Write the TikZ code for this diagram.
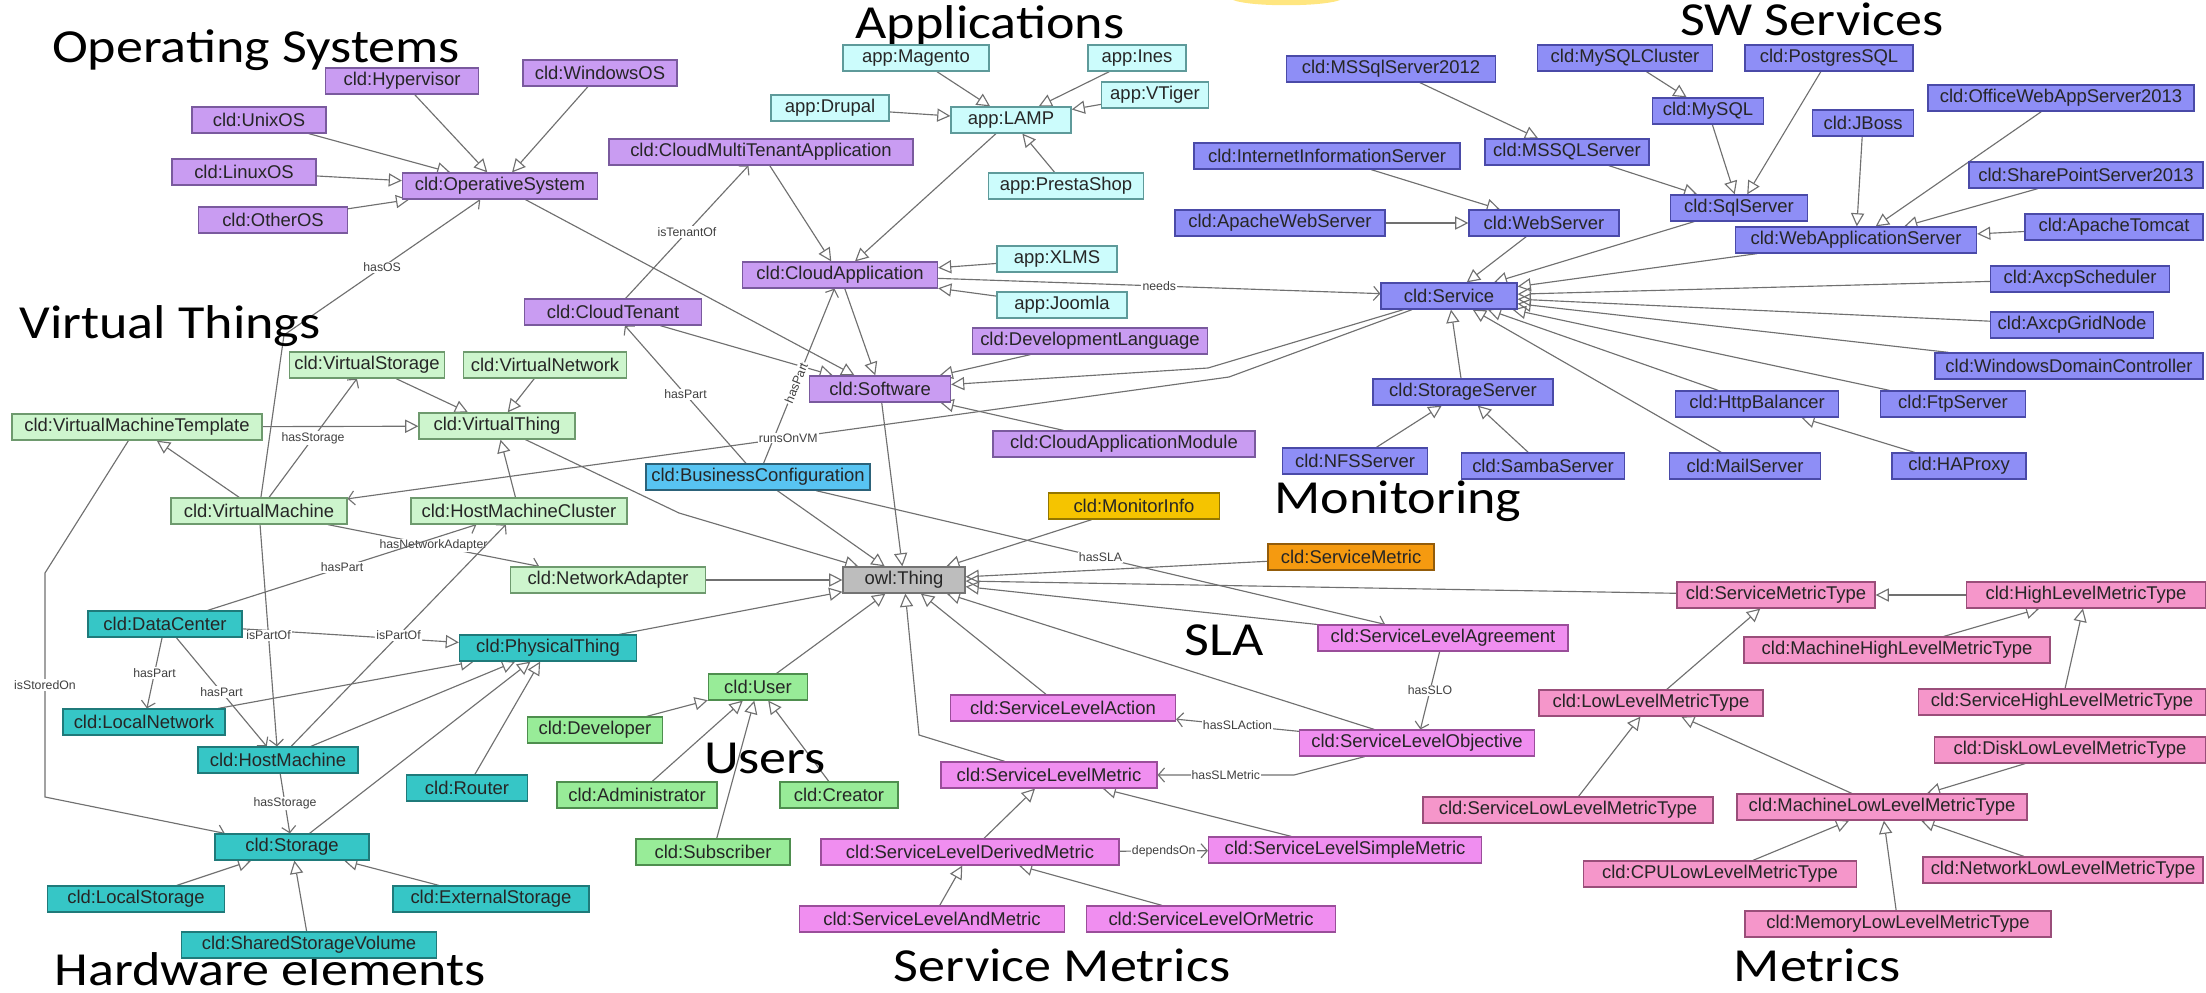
\documentclass[tikz,border=0pt]{standalone}
\usepackage{fontspec}
\setmainfont{Liberation Sans}
\newfontfamily\headfont[FakeStretch=1.14]{Carlito}
\usetikzlibrary{arrows.meta,backgrounds}
\definecolor{osfill}{HTML}{C99CF2}
\definecolor{osline}{HTML}{7A5A9E}
\definecolor{appfill}{HTML}{CCFCFC}
\definecolor{appline}{HTML}{5E9A9A}
\definecolor{swfill}{HTML}{8E8EF6}
\definecolor{swline}{HTML}{4A4AA8}
\definecolor{vtfill}{HTML}{CDF5CD}
\definecolor{vtline}{HTML}{6E9A6E}
\definecolor{hwfill}{HTML}{36C6C6}
\definecolor{hwline}{HTML}{1F7A7A}
\definecolor{usrfill}{HTML}{98EC98}
\definecolor{usrline}{HTML}{4E8E4E}
\definecolor{slafill}{HTML}{F08EF0}
\definecolor{slaline}{HTML}{9A4E9A}
\definecolor{metfill}{HTML}{F596CA}
\definecolor{metline}{HTML}{9A4E7A}
\definecolor{bizfill}{HTML}{58C4F2}
\definecolor{monfill}{HTML}{F5C400}
\definecolor{smfill}{HTML}{F59A10}
\definecolor{thingfill}{HTML}{BDBDBD}
\definecolor{edgec}{HTML}{707070}
\definecolor{logoyel}{HTML}{FFE680}
\tikzset{
  blk/.style={draw,rectangle,minimum height=0.52cm,inner xsep=1pt,inner ysep=0pt,line width=0.7pt,text=black!85,font=\fontsize{10.5}{12}\selectfont},
  wd/.style={minimum width=#1cm},
  osblk/.style={blk,fill=osfill,draw=osline},
  appblk/.style={blk,fill=appfill,draw=appline},
  swblk/.style={blk,fill=swfill,draw=swline},
  vtblk/.style={blk,fill=vtfill,draw=vtline},
  hwblk/.style={blk,fill=hwfill,draw=hwline},
  usrblk/.style={blk,fill=usrfill,draw=usrline},
  slablk/.style={blk,fill=slafill,draw=slaline},
  metblk/.style={blk,fill=metfill,draw=metline},
  bizblk/.style={blk,fill=bizfill,draw=bizfill!50!black},
  monblk/.style={blk,fill=monfill,draw=monfill!60!black},
  smblk/.style={blk,fill=smfill,draw=smfill!60!black},
  thingblk/.style={blk,fill=thingfill,draw=black!55},
  isa/.style={-{Triangle[open,length=7.5pt,width=7.5pt]},edgec,line width=0.65pt},
  rel/.style={-{Straight Barb[length=3.5pt,width=8pt]},edgec,line width=0.65pt},
  lbl/.style={font=\fontsize{7}{8}\selectfont,text=black!75,fill=white,inner sep=0.6pt},
  ttl/.style={font=\headfont\fontsize{27}{32}\selectfont,text=black,inner sep=0pt,anchor=base}
}
\begin{document}
\begin{tikzpicture}[x=0.02cm,y=-0.02cm]
  \useasboundingbox (0,0) rectangle (2206,993);
  % bit of a logo cut by the top edge
  \fill[logoyel] (1233,0) .. controls (1250,7) and (1322,7) .. (1340,0) -- cycle;

  % group titles (placed on their baselines)
  \node[ttl] (tos) at (256,63) {Operating Systems};
  \node[ttl] (tapp) at (990,39) {Applications};
  \node[ttl] (tsw) at (1812,36) {SW Services};
  \node[ttl] (tvt) at (170,338) {Virtual Things};
  \node[ttl] (tmon) at (1398,513) {Monitoring};
  \node[ttl] (tsla) at (1224,655) {SLA};
  \node[ttl] (tusr) at (765,773) {Users};
  \node[ttl] (thw) at (270,985) {Hardware elements};
  \node[ttl] (tsm) at (1062,981) {Service Metrics};
  \node[ttl] (tmet) at (1817,981) {Metrics};

  % operating systems
  \node[osblk,wd=3.06] (hyper) at (402,81) {cld:Hypervisor};
  \node[osblk,wd=3.08] (winos) at (600,73) {cld:WindowsOS};
  \node[osblk,wd=2.68] (unixos) at (259,120) {cld:UnixOS};
  \node[osblk,wd=2.88] (linuxos) at (244,172) {cld:LinuxOS};
  \node[osblk,wd=2.98] (otheros) at (273,220) {cld:OtherOS};
  \node[osblk,wd=3.9] (opsys) at (500,186) {cld:OperativeSystem};

  % applications
  \node[appblk,wd=2.92] (magento) at (916,58) {app:Magento};
  \node[appblk,wd=1.96] (ines) at (1137,58) {app:Ines};
  \node[appblk,wd=2.14] (vtiger) at (1155,95) {app:VTiger};
  \node[appblk,wd=2.36] (drupal) at (830,108) {app:Drupal};
  \node[appblk,wd=2.4] (lamp) at (1011,120) {app:LAMP};
  \node[appblk,wd=3.1] (presta) at (1066,186) {app:PrestaShop};
  \node[appblk,wd=2.4] (xlms) at (1057,259) {app:XLMS};
  \node[appblk,wd=2.6] (joomla) at (1062,305) {app:Joomla};

  % software
  \node[osblk,wd=6.08] (cmta) at (761,152) {cld:CloudMultiTenantApplication};
  \node[osblk,wd=3.9] (cloudapp) at (840,275) {cld:CloudApplication};
  \node[osblk,wd=3.54] (tenant) at (613,312) {cld:CloudTenant};
  \node[osblk,wd=4.7] (devlang) at (1090,341) {cld:DevelopmentLanguage};
  \node[osblk,wd=2.82] (software) at (880,389) {cld:Software};
  \node[osblk,wd=5.24] (cam) at (1124,444) {cld:CloudApplicationModule};
  \node[bizblk,wd=4.48] (bizconf) at (758,477) {cld:BusinessConfiguration};
  \node[monblk,wd=3.42] (moninfo) at (1134,506) {cld:MonitorInfo};
  \node[smblk,wd=3.32] (svcmetric) at (1351,557) {cld:ServiceMetric};
  \node[thingblk,wd=2.44] (thing) at (904,580) {owl:Thing};

  % sw services
  \node[swblk,wd=4.18] (mssql12) at (1391,69) {cld:MSSqlServer2012};
  \node[swblk,wd=3.5] (mysqlcl) at (1625,58) {cld:MySQLCluster};
  \node[swblk,wd=3.36] (postgres) at (1829,58) {cld:PostgresSQL};
  \node[swblk,wd=5.32] (iis) at (1327,156) {cld:InternetInformationServer};
  \node[swblk,wd=3.28] (mssql) at (1567,152) {cld:MSSQLServer};
  \node[swblk,wd=2.22] (mysql) at (1708,111) {cld:MySQL};
  \node[swblk,wd=2.02] (jboss) at (1863,123) {cld:JBoss};
  \node[swblk,wd=5.32] (officeweb) at (2061,98) {cld:OfficeWebAppServer2013};
  \node[swblk,wd=4.68] (sharepoint) at (2086,175) {cld:SharePointServer2013};
  \node[swblk,wd=2.74] (sqlsrv) at (1739,208) {cld:SqlServer};
  \node[swblk,wd=4.2] (apacheweb) at (1280,223) {cld:ApacheWebServer};
  \node[swblk,wd=3.0] (websrv) at (1544,223) {cld:WebServer};
  \node[swblk,wd=3.56] (tomcat) at (2114,227) {cld:ApacheTomcat};
  \node[swblk,wd=4.82] (webapp) at (1856,240) {cld:WebApplicationServer};
  \node[swblk,wd=2.72] (service) at (1449,296) {cld:Service};
  \node[swblk,wd=3.58] (axcpsch) at (2080,279) {cld:AxcpScheduler};
  \node[swblk,wd=3.26] (axcpgrid) at (2072,325) {cld:AxcpGridNode};
  \node[swblk,wd=5.36] (windc) at (2069,366) {cld:WindowsDomainController};
  \node[swblk,wd=3.26] (httpbal) at (1757,404) {cld:HttpBalancer};
  \node[swblk,wd=2.9] (ftpsrv) at (1953,404) {cld:FtpServer};
  \node[swblk,wd=3.02] (mailsrv) at (1745,466) {cld:MailServer};
  \node[swblk,wd=2.68] (haproxy) at (1959,466) {cld:HAProxy};
  \node[swblk,wd=3.6] (storsrv) at (1463,392) {cld:StorageServer};
  \node[swblk,wd=2.9] (nfssrv) at (1355,461) {cld:NFSServer};
  \node[swblk,wd=3.26] (sambasrv) at (1543,466) {cld:SambaServer};

  % virtual things
  \node[vtblk,wd=3.1] (vstorage) at (367,365) {cld:VirtualStorage};
  \node[vtblk,wd=3.26] (vnetwork) at (545,365) {cld:VirtualNetwork};
  \node[vtblk,wd=5.0] (vmtempl) at (137,427) {cld:VirtualMachineTemplate};
  \node[vtblk,wd=3.12] (vthing) at (497,426) {cld:VirtualThing};
  \node[vtblk,wd=3.52] (vm) at (259,511) {cld:VirtualMachine};
  \node[vtblk,wd=4.32] (hmcluster) at (519,511) {cld:HostMachineCluster};
  \node[vtblk,wd=3.9] (netadapter) at (608,580) {cld:NetworkAdapter};

  % hardware elements
  \node[hwblk,wd=3.08] (datacenter) at (165,624) {cld:DataCenter};
  \node[hwblk,wd=3.54] (physthing) at (548,648) {cld:PhysicalThing};
  \node[hwblk,wd=3.24] (localnet) at (144,722) {cld:LocalNetwork};
  \node[hwblk,wd=3.2] (hostmach) at (278,760) {cld:HostMachine};
  \node[hwblk,wd=2.42] (router) at (467,788) {cld:Router};
  \node[hwblk,wd=3.08] (storage) at (292,847) {cld:Storage};
  \node[hwblk,wd=3.54] (localstor) at (136,899) {cld:LocalStorage};
  \node[hwblk,wd=3.92] (extstor) at (491,899) {cld:ExternalStorage};
  \node[hwblk,wd=5.1] (sharedvol) at (309,945) {cld:SharedStorageVolume};

  % users
  \node[usrblk,wd=1.98] (user) at (758,687) {cld:User};
  \node[usrblk,wd=2.7] (developer) at (595,730) {cld:Developer};
  \node[usrblk,wd=3.2] (admin) at (637,795) {cld:Administrator};
  \node[usrblk,wd=2.36] (creator) at (839,795) {cld:Creator};
  \node[usrblk,wd=3.08] (subscriber) at (713,852) {cld:Subscriber};

  % sla and service metrics
  \node[slablk,wd=5.0] (sla) at (1443,638) {cld:ServiceLevelAgreement};
  \node[slablk,wd=4.5] (slaction) at (1063,708) {cld:ServiceLevelAction};
  \node[slablk,wd=4.7] (slo) at (1417,743) {cld:ServiceLevelObjective};
  \node[slablk,wd=4.32] (slmetric) at (1049,775) {cld:ServiceLevelMetric};
  \node[slablk,wd=5.96] (sldm) at (970,852) {cld:ServiceLevelDerivedMetric};
  \node[slablk,wd=5.46] (slsm) at (1345,850) {cld:ServiceLevelSimpleMetric};
  \node[slablk,wd=5.3] (sland) at (932,919) {cld:ServiceLevelAndMetric};
  \node[slablk,wd=4.98] (slor) at (1211,919) {cld:ServiceLevelOrMetric};

  % metrics
  \node[metblk,wd=3.96] (smtype) at (1776,595) {cld:ServiceMetricType};
  \node[metblk,wd=4.78] (hlmt) at (2086,595) {cld:HighLevelMetricType};
  \node[metblk,wd=6.12] (mhlmt) at (1897,650) {cld:MachineHighLevelMetricType};
  \node[metblk,wd=4.48] (llmt) at (1651,703) {cld:LowLevelMetricType};
  \node[metblk,wd=5.74] (shlmt) at (2062,702) {cld:ServiceHighLevelMetricType};
  \node[metblk,wd=5.42] (dllmt) at (2070,750) {cld:DiskLowLevelMetricType};
  \node[metblk,wd=5.8] (sllmt) at (1568,810) {cld:ServiceLowLevelMetricType};
  \node[metblk,wd=5.8] (mllmt) at (1882,807) {cld:MachineLowLevelMetricType};
  \node[metblk,wd=5.46] (cpullmt) at (1720,874) {cld:CPULowLevelMetricType};
  \node[metblk,wd=5.6] (netllmt) at (2063,870) {cld:NetworkLowLevelMetricType};
  \node[metblk,wd=6.12] (memllmt) at (1898,924) {cld:MemoryLowLevelMetricType};

  % bend points
  \coordinate (osbend) at (284,335);
  \coordinate (swbend) at (1208,368);
  \coordinate (rvbend) at (1229,377);
  \coordinate (vtbend) at (679,513);
  \coordinate (slmbend) at (919,735);
  \coordinate (isbend1) at (45,573);
  \coordinate (isbend2) at (45,797);
  \coordinate (smbend) at (1294,775);

  \begin{scope}[on background layer]
  % subclass links
  \draw[isa] (hyper) -- (opsys);
  \draw[isa] (winos) -- (opsys);
  \draw[isa] (unixos) -- (opsys);
  \draw[isa] (linuxos) -- (opsys);
  \draw[isa] (otheros) -- (opsys);
  \draw[isa] (opsys) -- (software);
  \draw[isa] (tenant) -- (software);
  \draw[isa] (cloudapp) -- (software);
  \draw[isa] (devlang) -- (software);
  \draw[isa] (cam) -- (software);
  \draw[isa] (service) -- (swbend) -- (software);
  \draw[isa] (magento) -- (lamp);
  \draw[isa] (ines) -- (lamp);
  \draw[isa] (vtiger) -- (lamp);
  \draw[isa] (drupal) -- (lamp);
  \draw[isa] (presta) -- (lamp);
  \draw[isa] (lamp) -- (cloudapp);
  \draw[isa] (cmta) -- (cloudapp);
  \draw[isa] (xlms) -- (cloudapp);
  \draw[isa] (joomla) -- (cloudapp);
  \draw[isa] (software) -- (thing);
  \draw[isa] (bizconf) -- (thing);
  \draw[isa] (moninfo) -- (thing);
  \draw[isa] (svcmetric) -- (thing);
  \draw[isa] (smtype) -- (thing);
  \draw[isa] (sla) -- (thing);
  \draw[isa] (slo) -- (thing);
  \draw[isa] (slaction) -- (thing);
  \draw[isa] (slmetric) -- (slmbend) -- (thing);
  \draw[isa] (user) -- (thing);
  \draw[isa] (physthing) -- (thing);
  \draw[isa] (netadapter) -- (thing);
  \draw[isa] (vthing) -- (vtbend) -- (thing);
  \draw[isa] (mssql12) -- (mssql);
  \draw[isa] (mssql) -- (sqlsrv);
  \draw[isa] (mysqlcl) -- (mysql);
  \draw[isa] (mysql) -- (sqlsrv);
  \draw[isa] (postgres) -- (sqlsrv);
  \draw[isa] (iis) -- (websrv);
  \draw[isa] (apacheweb) -- (websrv);
  \draw[isa] (jboss) -- (webapp);
  \draw[isa] (officeweb) -- (webapp);
  \draw[isa] (sharepoint) -- (webapp);
  \draw[isa] (tomcat) -- (webapp);
  \draw[isa] (websrv) -- (service);
  \draw[isa] (webapp) -- (service);
  \draw[isa] (sqlsrv) -- (service);
  \draw[isa] (axcpsch) -- (service);
  \draw[isa] (axcpgrid) -- (service);
  \draw[isa] (windc) -- (service);
  \draw[isa] (ftpsrv) -- (service);
  \draw[isa] (httpbal) -- (service);
  \draw[isa] (mailsrv) -- (service);
  \draw[isa] (storsrv) -- (service);
  \draw[isa] (haproxy) -- (httpbal);
  \draw[isa] (nfssrv) -- (storsrv);
  \draw[isa] (sambasrv) -- (storsrv);
  \draw[isa] (vstorage) -- (vthing);
  \draw[isa] (vnetwork) -- (vthing);
  \draw[isa] (vmtempl) -- (vthing);
  \draw[isa] (hmcluster) -- (vthing);
  \draw[isa] (vm) -- (vmtempl);
  \draw[isa] (datacenter) -- (physthing);
  \draw[isa] (localnet) -- (physthing);
  \draw[isa] (hostmach) -- (physthing);
  \draw[isa] (router) -- (physthing);
  \draw[isa] (storage) -- (physthing);
  \draw[isa] (localstor) -- (storage);
  \draw[isa] (sharedvol) -- (storage);
  \draw[isa] (extstor) -- (storage);
  \draw[isa] (developer) -- (user);
  \draw[isa] (admin) -- (user);
  \draw[isa] (subscriber) -- (user);
  \draw[isa] (creator) -- (user);
  \draw[isa] (sldm) -- (slmetric);
  \draw[isa] (slsm) -- (slmetric);
  \draw[isa] (sland) -- (sldm);
  \draw[isa] (slor) -- (sldm);
  \draw[isa] (hlmt) -- (smtype);
  \draw[isa] (llmt) -- (smtype);
  \draw[isa] (mhlmt) -- (hlmt);
  \draw[isa] (shlmt) -- (hlmt);
  \draw[isa] (sllmt) -- (llmt);
  \draw[isa] (mllmt) -- (llmt);
  \draw[isa] (dllmt) -- (mllmt);
  \draw[isa] (cpullmt) -- (mllmt);
  \draw[isa] (memllmt) -- (mllmt);
  \draw[isa] (netllmt) -- (mllmt);

  % object properties
  \draw[rel] (vm) -- (osbend) -- (opsys) node[lbl,midway]{hasOS};
  \draw[rel] (tenant) -- (cmta) node[lbl,midway]{isTenantOf};
  \draw[rel] (cloudapp) -- (service) node[lbl,midway]{needs};
  \draw[rel] (bizconf) -- (tenant) node[lbl,midway]{hasPart};
  \draw[rel] (bizconf) -- (cloudapp) node[lbl,pos=0.46,sloped]{hasPart};
  \draw[rel] (service) -- (rvbend) -- (vm) node[lbl,midway]{runsOnVM};
  \draw[rel] (bizconf) -- (sla) node[lbl,midway]{hasSLA};
  \draw[rel] (vm) -- (vstorage) node[lbl,midway]{hasStorage};
  \draw[rel] (vm) -- (netadapter) node[lbl,midway]{hasNetworkAdapter};
  \draw[rel] (datacenter) -- (hmcluster) node[lbl,midway]{hasPart};
  \draw[rel] (hostmach) -- (hmcluster) node[lbl,midway]{isPartOf};
  \draw[rel] (vm) -- (hostmach) node[lbl,midway]{isPartOf};
  \draw[rel] (vmtempl) -- (isbend1) -- node[lbl]{isStoredOn} (isbend2) -- (storage);
  \draw[rel] (datacenter) -- (localnet) node[lbl,midway]{hasPart};
  \draw[rel] (datacenter) -- (hostmach) node[lbl,midway]{hasPart};
  \draw[rel] (hostmach) -- (storage) node[lbl,midway]{hasStorage};
  \draw[rel] (sla) -- (slo) node[lbl,midway]{hasSLO};
  \draw[rel] (slo) -- (slaction) node[lbl,midway]{hasSLAction};
  \draw[rel] (slo) -- (smbend) -- (slmetric) node[lbl,midway]{hasSLMetric};
  \draw[rel] (sldm) -- (slsm) node[lbl,midway]{dependsOn};
  \end{scope}
\end{tikzpicture}
\end{document}
